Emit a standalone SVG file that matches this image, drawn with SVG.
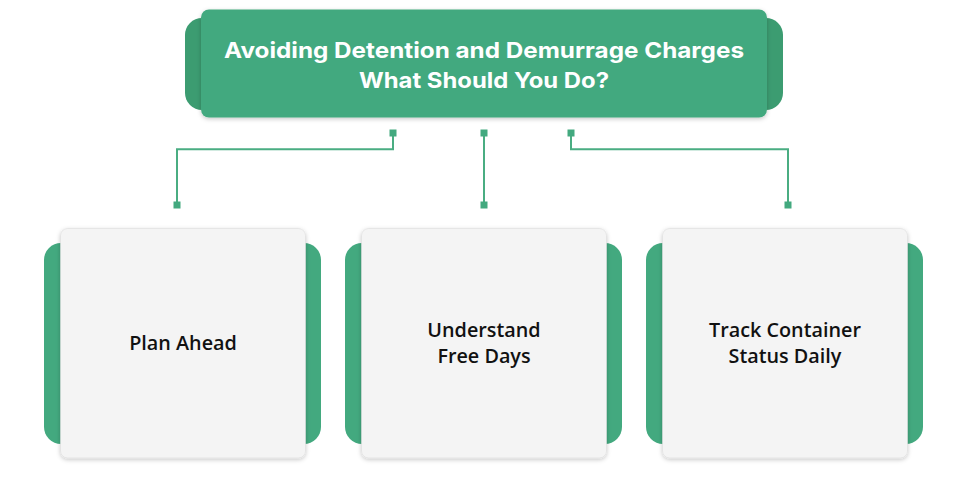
<svg xmlns="http://www.w3.org/2000/svg" width="969" height="491" viewBox="0 0 969 491">
  <defs>
    <filter id="shadow" x="-10%" y="-10%" width="120%" height="130%">
      <feDropShadow dx="0" dy="1.5" stdDeviation="2" flood-color="#000" flood-opacity="0.22"/>
    </filter>
    <style>
      .tab { fill: #43a97f; }
      .tab-dark { fill: #3c9c71; }
      .title-card { fill: #43a97f; filter: url(#shadow); }
      .card { fill: #f4f4f4; stroke: #dcdcdc; stroke-width: 0.6; filter: url(#shadow); }
      .title-text { font-family: Inter, "Liberation Sans", sans-serif; font-weight: 700; font-size: 22px; fill: #ffffff; text-anchor: middle; }
      .label { font-family: "Open Sans", "Noto Sans", sans-serif; font-weight: 600; font-size: 19.8px; fill: #111111; text-anchor: middle; }
      .wire { fill: none; stroke: #4aad82; stroke-width: 2; }
      .pin { fill: #43a97f; }
    </style>
  </defs>

  <rect width="969" height="491" fill="#ffffff"/>

  <!-- heading -->
  <g id="title">
    <rect class="tab-dark" x="185" y="18" width="40" height="92" rx="17"/>
    <rect class="tab-dark" x="743" y="18" width="40" height="92" rx="17"/>
    <rect class="title-card" x="201" y="9.5" width="566" height="108" rx="8"/>
    <text class="title-text" x="484" y="58" textLength="520" lengthAdjust="spacingAndGlyphs">Avoiding Detention and Demurrage Charges</text>
    <text class="title-text" x="484" y="88" textLength="250" lengthAdjust="spacingAndGlyphs">What Should You Do?</text>
  </g>

  <!-- connectors -->
  <g id="connectors">
    <polyline class="wire" points="393,133 393,149.3 177,149.3 177,205"/>
    <line class="wire" x1="484" y1="133" x2="484" y2="205"/>
    <polyline class="wire" points="571,133 571,149.3 788,149.3 788,205"/>
    <rect class="pin" x="389.5" y="129.5" width="7" height="7"/>
    <rect class="pin" x="480.5" y="129.5" width="7" height="7"/>
    <rect class="pin" x="567.5" y="129.5" width="7" height="7"/>
    <rect class="pin" x="173.5" y="201.5" width="7" height="7"/>
    <rect class="pin" x="480.5" y="201.5" width="7" height="7"/>
    <rect class="pin" x="784.5" y="201.5" width="7" height="7"/>
  </g>

  <!-- step cards -->
  <g id="plan-ahead">
    <rect class="tab" x="44" y="243" width="50" height="201" rx="17"/>
    <rect class="tab" x="271" y="243" width="50" height="201" rx="17"/>
    <rect class="card" x="60.5" y="228.5" width="245" height="229.5" rx="7"/>
    <text class="label" x="183" y="350">Plan Ahead</text>
  </g>

  <g id="free-days">
    <rect class="tab" x="345" y="243" width="50" height="201" rx="17"/>
    <rect class="tab" x="572" y="243" width="50" height="201" rx="17"/>
    <rect class="card" x="361.5" y="228.5" width="245" height="229.5" rx="7"/>
    <text class="label" x="484" y="337">Understand</text>
    <text class="label" x="484" y="363">Free Days</text>
  </g>

  <g id="track-status">
    <rect class="tab" x="646" y="243" width="50" height="201" rx="17"/>
    <rect class="tab" x="873" y="243" width="50" height="201" rx="17"/>
    <rect class="card" x="662.5" y="228.5" width="245" height="229.5" rx="7"/>
    <text class="label" x="785" y="337">Track Container</text>
    <text class="label" x="785" y="363">Status Daily</text>
  </g>
</svg>
